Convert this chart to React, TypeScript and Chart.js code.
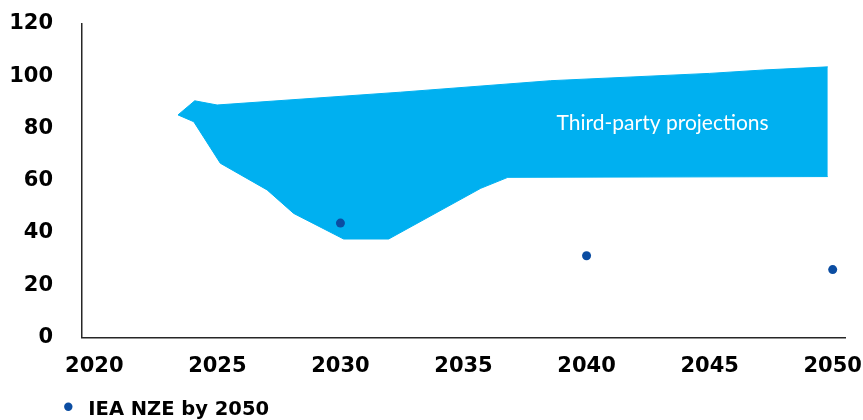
import React, { useEffect, useRef } from 'react';
import { Chart, registerables } from 'chart.js';

Chart.register(...registerables);

// Third-party projections band (upper and lower envelopes)
const upperYears = [2023.4, 2024.08, 2024.99, 2032.44, 2038.54, 2045, 2047.2, 2049.8];
const upperValues = [85.2, 90.6, 89.0, 93.9, 98.3, 101.1, 102.4, 103.6];
const lowerYears = [2023.4, 2024.04, 2025.12, 2027.02, 2028.1, 2030.13, 2031.96, 2035.7, 2036.8, 2049.8];
const lowerValues = [85.2, 82.6, 66.7, 56.5, 47.5, 37.7, 37.7, 57.1, 61.3, 61.6];

// IEA NZE by 2050 points
const nzeYears = [2030, 2040, 2050];
const nzeValues = [43.8, 31.3, 26.0];

// Ticks
const xTickYears = [2020, 2025, 2030, 2035, 2040, 2045, 2050];
const yTickValues = [0, 20, 40, 60, 80, 100, 120];

// Labels
const areaLabel = 'Third-party projections';
const areaLabelYear = 2038.78;
const areaLabelValue = 79.4;
const legendLabel = 'IEA NZE by 2050';

const BAND_COLOR = '#00B0F0';
const POINT_COLOR = '#0B4DA2';
const AXIS_FONT = { family: '"DejaVu Sans"', size: 21, weight: 'bold' as const };

const overlayPlugin = {
  id: 'overlay',
  afterDatasetsDraw(chart: any) {
    const { ctx, scales } = chart;
    const x = scales.x;
    const y = scales.y;
    ctx.save();
    ctx.fillStyle = '#ffffff';
    ctx.font = '21px Lato';
    ctx.textAlign = 'left';
    ctx.textBaseline = 'alphabetic';
    ctx.fillText(areaLabel, x.getPixelForValue(areaLabelYear), y.getPixelForValue(areaLabelValue));
    ctx.restore();
  },
  afterDraw(chart: any) {
    const { ctx } = chart;
    ctx.save();
    ctx.fillStyle = POINT_COLOR;
    ctx.beginPath();
    ctx.arc(68.3, 406.7, 4.2, 0, Math.PI * 2);
    ctx.fill();
    ctx.fillStyle = '#000000';
    ctx.font = 'bold 19.5px "DejaVu Sans"';
    ctx.textAlign = 'left';
    ctx.textBaseline = 'alphabetic';
    ctx.fillText(legendLabel, 88.3, 415);
    ctx.restore();
  },
};

export default function App() {
  const canvasRef = useRef<HTMLCanvasElement | null>(null);

  useEffect(() => {
    if (!canvasRef.current) return;
    const upper = upperYears.map((yr, i) => ({ x: yr, y: upperValues[i] }));
    const lower = lowerYears.map((yr, i) => ({ x: yr, y: lowerValues[i] }));
    const nze = nzeYears.map((yr, i) => ({ x: yr, y: nzeValues[i] }));

    const chart = new Chart(canvasRef.current, {
      type: 'line',
      data: {
        datasets: [
          {
            label: 'upper',
            data: upper,
            borderColor: BAND_COLOR,
            backgroundColor: BAND_COLOR,
            borderWidth: 1,
            pointRadius: 0,
            tension: 0,
            fill: '+1',
            order: 2,
          },
          {
            label: 'lower',
            data: lower,
            borderColor: BAND_COLOR,
            backgroundColor: BAND_COLOR,
            borderWidth: 1,
            pointRadius: 0,
            tension: 0,
            fill: false,
            order: 2,
          },
          {
            label: legendLabel,
            data: nze,
            showLine: false,
            pointRadius: 4.5,
            pointHoverRadius: 4.5,
            pointBackgroundColor: POINT_COLOR,
            pointBorderWidth: 0,
            backgroundColor: POINT_COLOR,
            borderColor: POINT_COLOR,
            order: 0,
          },
        ],
      },
      options: {
        animation: false,
        responsive: true,
        maintainAspectRatio: false,
        layout: { padding: { top: 24, right: 18, left: 0, bottom: 0 } },
        plugins: {
          legend: { display: false },
          tooltip: { enabled: false },
        },
        scales: {
          x: {
            type: 'linear',
            min: 2019.5,
            max: 2050.5,
            afterBuildTicks: (s: any) => {
              s.ticks = xTickYears.map((v) => ({ value: v }));
            },
            afterFit: (s: any) => {
              s.height = 82.5;
              s.paddingLeft = 0;
              s.paddingRight = 0;
            },
            ticks: {
              autoSkip: false,
              maxRotation: 0,
              padding: 16.5,
              color: '#000000',
              font: AXIS_FONT,
              callback: (v: any) => String(v),
            },
            grid: { display: false, drawTicks: false },
            border: { display: true, color: '#262626', width: 1.5 },
          },
          y: {
            type: 'linear',
            min: 0,
            max: 120,
            afterBuildTicks: (s: any) => {
              s.ticks = yTickValues.map((v) => ({ value: v }));
            },
            afterFit: (s: any) => {
              s.width = 82;
              s.paddingTop = 0;
              s.paddingBottom = 0;
            },
            ticks: {
              padding: 29,
              color: '#000000',
              font: AXIS_FONT,
              callback: (v: any) => String(v),
            },
            grid: { display: false, drawTicks: false },
            border: { display: true, color: '#262626', width: 1.5 },
          },
        },
      },
      plugins: [overlayPlugin],
    });

    return () => chart.destroy();
  }, []);

  return (
    <div style={{ position: 'fixed', left: 0, top: 0, width: '863px', height: '420px' }}>
      <canvas ref={canvasRef} />
    </div>
  );
}
